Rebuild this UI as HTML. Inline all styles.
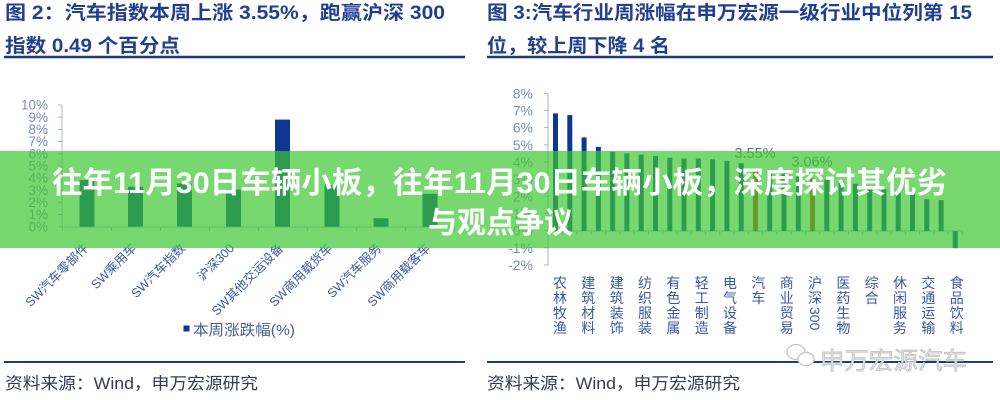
<!DOCTYPE html>
<html>
<head>
<meta charset="utf-8">
<style>
html,body{margin:0;padding:0;background:#fff;}
svg{display:block;}
text{font-family:"Liberation Sans","Noto Sans CJK SC",sans-serif;}
</style>
</head>
<body>
<svg width="1000" height="400" viewBox="0 0 1000 400" xmlns="http://www.w3.org/2000/svg">
<rect x="0" y="0" width="1000" height="400" fill="#ffffff"/>

<!-- ===== Left panel titles ===== -->
<g fill="#213f91" font-weight="bold" font-size="19">
  <text x="5" y="19" textLength="440" lengthAdjust="spacingAndGlyphs">图 2：汽车指数本周上涨 3.55%，跑赢沪深 300</text>
  <text x="5" y="52" textLength="175" lengthAdjust="spacingAndGlyphs">指数 0.49 个百分点</text>
</g>
<line x1="4" y1="57" x2="465" y2="57" stroke="#1f3a7a" stroke-width="2.5"/>

<!-- ===== Right panel titles ===== -->
<g fill="#213f91" font-weight="bold" font-size="19">
  <text x="487" y="19" textLength="485" lengthAdjust="spacingAndGlyphs">图 3:汽车行业周涨幅在申万宏源一级行业中位列第 15</text>
  <text x="487" y="52" textLength="183" lengthAdjust="spacingAndGlyphs">位，较上周下降 4 名</text>
</g>
<line x1="487" y1="57" x2="993" y2="57" stroke="#1f3a7a" stroke-width="2.5"/>

<!-- ===== Left chart ===== -->
<g fill="#7d8cb8" font-size="13.5" text-anchor="end">
  <text x="48" y="109.7">10%</text>
  <text x="48" y="121.9">9%</text>
  <text x="48" y="134.0">8%</text>
  <text x="48" y="146.2">7%</text>
  <text x="48" y="158.4">6%</text>
  <text x="48" y="170.5">5%</text>
  <text x="48" y="182.7">4%</text>
  <text x="48" y="194.9">3%</text>
  <text x="48" y="207.1">2%</text>
  <text x="48" y="219.2">1%</text>
  <text x="48" y="231.4">0%</text>
</g>
<g stroke="#a9b2cf" stroke-width="1">
  <line x1="62" y1="105" x2="62" y2="227"/>
  <line x1="58" y1="105" x2="62" y2="105"/>
  <line x1="58" y1="117.2" x2="62" y2="117.2"/>
  <line x1="58" y1="129.3" x2="62" y2="129.3"/>
  <line x1="58" y1="141.5" x2="62" y2="141.5"/>
  <line x1="58" y1="153.7" x2="62" y2="153.7"/>
  <line x1="58" y1="165.9" x2="62" y2="165.9"/>
  <line x1="58" y1="178.0" x2="62" y2="178.0"/>
  <line x1="58" y1="190.2" x2="62" y2="190.2"/>
  <line x1="58" y1="202.4" x2="62" y2="202.4"/>
  <line x1="58" y1="214.5" x2="62" y2="214.5"/>
  <line x1="58" y1="226.7" x2="62" y2="226.7"/>
  <line x1="62" y1="227" x2="454.5" y2="227"/>
  <line x1="62.5" y1="227" x2="62.5" y2="231"/>
  <line x1="111.5" y1="227" x2="111.5" y2="231"/>
  <line x1="160.5" y1="227" x2="160.5" y2="231"/>
  <line x1="209.5" y1="227" x2="209.5" y2="231"/>
  <line x1="258.5" y1="227" x2="258.5" y2="231"/>
  <line x1="307.5" y1="227" x2="307.5" y2="231"/>
  <line x1="356.5" y1="227" x2="356.5" y2="231"/>
  <line x1="405.5" y1="227" x2="405.5" y2="231"/>
  <line x1="454.5" y1="227" x2="454.5" y2="231"/>
</g>
<g fill="#0f3693">
  <rect x="79.5" y="180.0" width="15" height="46.7"/>
  <rect x="128" y="186.7" width="15" height="40.0"/>
  <rect x="177" y="183.5" width="15" height="43.2"/>
  <rect x="226" y="189.5" width="15" height="37.2"/>
  <rect x="275" y="119.6" width="15" height="107.1"/>
  <rect x="324.5" y="185.3" width="15" height="41.4"/>
  <rect x="373.5" y="218.2" width="15" height="8.5"/>
  <rect x="422.5" y="193.8" width="15" height="32.9"/>
</g>
<g fill="#3a58a8" font-size="12.5" text-anchor="end">
  <text transform="translate(89,249) rotate(-45)">SW汽车零部件</text>
  <text transform="translate(137,249) rotate(-45)">SW乘用车</text>
  <text transform="translate(186,249) rotate(-45)">SW汽车指数</text>
  <text transform="translate(235,249) rotate(-45)">沪深300</text>
  <text transform="translate(284,249) rotate(-45)">SW其他交运设备</text>
  <text transform="translate(333,249) rotate(-45)">SW商用载货车</text>
  <text transform="translate(382,249) rotate(-45)">SW汽车服务</text>
  <text transform="translate(431,249) rotate(-45)">SW商用载客车</text>
</g>
<rect x="183.5" y="325.5" width="6" height="6" fill="#0f3693"/>
<text x="193" y="335" fill="#4b5d96" font-size="15" textLength="102" lengthAdjust="spacingAndGlyphs">本周涨跌幅(%)</text>

<!-- ===== Right chart ===== -->
<g fill="#7d8cb8" font-size="14" text-anchor="end">
  <text x="533" y="98.3">8%</text>
  <text x="533" y="115.5">7%</text>
  <text x="533" y="132.6">6%</text>
  <text x="533" y="149.8">5%</text>
  <text x="533" y="167.0">4%</text>
  <text x="533" y="184.2">3%</text>
  <text x="533" y="201.3">2%</text>
  <text x="533" y="218.5">1%</text>
  <text x="533" y="235.7">0%</text>
  <text x="533" y="252.9">-1%</text>
  <text x="533" y="270.0">-2%</text>
</g>
<g stroke="#a9b2cf" stroke-width="1">
  <line x1="548" y1="93" x2="548" y2="265"/>
  <line x1="544" y1="93.3" x2="548" y2="93.3"/>
  <line x1="544" y1="110.5" x2="548" y2="110.5"/>
  <line x1="544" y1="127.6" x2="548" y2="127.6"/>
  <line x1="544" y1="144.8" x2="548" y2="144.8"/>
  <line x1="544" y1="162.0" x2="548" y2="162.0"/>
  <line x1="544" y1="179.2" x2="548" y2="179.2"/>
  <line x1="544" y1="196.3" x2="548" y2="196.3"/>
  <line x1="544" y1="213.5" x2="548" y2="213.5"/>
  <line x1="544" y1="230.7" x2="548" y2="230.7"/>
  <line x1="544" y1="247.9" x2="548" y2="247.9"/>
  <line x1="544" y1="265.0" x2="548" y2="265.0"/>
  <line x1="548" y1="231" x2="963" y2="231"/>
</g>
<g stroke="#a9b2cf" stroke-width="1">
  <line x1="562.7" y1="231" x2="562.7" y2="235"/>
  <line x1="577.0" y1="231" x2="577.0" y2="235"/>
  <line x1="591.3" y1="231" x2="591.3" y2="235"/>
  <line x1="605.5" y1="231" x2="605.5" y2="235"/>
  <line x1="619.8" y1="231" x2="619.8" y2="235"/>
  <line x1="634.1" y1="231" x2="634.1" y2="235"/>
  <line x1="648.4" y1="231" x2="648.4" y2="235"/>
  <line x1="662.7" y1="231" x2="662.7" y2="235"/>
  <line x1="676.9" y1="231" x2="676.9" y2="235"/>
  <line x1="691.2" y1="231" x2="691.2" y2="235"/>
  <line x1="705.5" y1="231" x2="705.5" y2="235"/>
  <line x1="719.8" y1="231" x2="719.8" y2="235"/>
  <line x1="734.0" y1="231" x2="734.0" y2="235"/>
  <line x1="748.3" y1="231" x2="748.3" y2="235"/>
  <line x1="762.6" y1="231" x2="762.6" y2="235"/>
  <line x1="776.9" y1="231" x2="776.9" y2="235"/>
  <line x1="791.2" y1="231" x2="791.2" y2="235"/>
  <line x1="805.4" y1="231" x2="805.4" y2="235"/>
  <line x1="819.7" y1="231" x2="819.7" y2="235"/>
  <line x1="834.0" y1="231" x2="834.0" y2="235"/>
  <line x1="848.3" y1="231" x2="848.3" y2="235"/>
  <line x1="862.6" y1="231" x2="862.6" y2="235"/>
  <line x1="876.8" y1="231" x2="876.8" y2="235"/>
  <line x1="891.1" y1="231" x2="891.1" y2="235"/>
  <line x1="905.4" y1="231" x2="905.4" y2="235"/>
  <line x1="919.7" y1="231" x2="919.7" y2="235"/>
  <line x1="934.0" y1="231" x2="934.0" y2="235"/>
  <line x1="948.2" y1="231" x2="948.2" y2="235"/>
  <line x1="962.5" y1="231" x2="962.5" y2="235"/>
</g>
<g fill="#0f3693">
  <rect x="553.0" y="113.4" width="5" height="117.6"/>
  <rect x="567.3" y="115.1" width="5" height="115.9"/>
  <rect x="581.6" y="137.4" width="5" height="93.6"/>
  <rect x="595.9" y="146.9" width="5" height="84.1"/>
  <rect x="610.1" y="151.7" width="5" height="79.3"/>
  <rect x="624.4" y="153.4" width="5" height="77.6"/>
  <rect x="638.7" y="154.6" width="5" height="76.4"/>
  <rect x="653.0" y="156.0" width="5" height="75.0"/>
  <rect x="667.3" y="157.7" width="5" height="73.3"/>
  <rect x="681.5" y="158.5" width="5" height="72.5"/>
  <rect x="695.8" y="158.5" width="5" height="72.5"/>
  <rect x="710.1" y="159.2" width="5" height="71.8"/>
  <rect x="724.4" y="160.9" width="5" height="70.1"/>
  <rect x="738.7" y="163.2" width="5" height="67.8"/>
  <rect x="767.2" y="170.9" width="5" height="60.1"/>
  <rect x="781.5" y="172.6" width="5" height="58.4"/>
  <rect x="795.8" y="175.2" width="5" height="55.8"/>
  <rect x="824.3" y="179.5" width="5" height="51.5"/>
  <rect x="838.6" y="181.2" width="5" height="49.8"/>
  <rect x="852.9" y="183.8" width="5" height="47.2"/>
  <rect x="867.2" y="186.4" width="5" height="44.6"/>
  <rect x="881.5" y="188.9" width="5" height="42.1"/>
  <rect x="895.7" y="190.7" width="5" height="40.3"/>
  <rect x="910.0" y="191.7" width="5" height="39.3"/>
  <rect x="924.3" y="199.2" width="5" height="31.8"/>
  <rect x="938.6" y="200.1" width="5" height="30.9"/>
  <rect x="952.8" y="231" width="5" height="17.2"/>
</g>
<g fill="#d62a1a">
  <rect x="753.0" y="170.0" width="5" height="61.0"/>
  <rect x="810.0" y="178.5" width="5" height="52.5"/>
</g>
<g fill="#6b6b6b" font-size="14.5" text-anchor="middle">
  <text x="755" y="158">3.55%</text>
  <text x="812" y="166.5">3.06%</text>
</g>

<!-- vertical category labels -->
<g fill="#3a58a8" font-size="14" text-anchor="middle">
  <text x="560" y="288">农</text><text x="560" y="303">林</text><text x="560" y="318">牧</text><text x="560" y="333">渔</text>
  <text x="588.3" y="288">建</text><text x="588.3" y="303">筑</text><text x="588.3" y="318">材</text><text x="588.3" y="333">料</text>
  <text x="616.7" y="288">建</text><text x="616.7" y="303">筑</text><text x="616.7" y="318">装</text><text x="616.7" y="333">饰</text>
  <text x="645" y="288">纺</text><text x="645" y="303">织</text><text x="645" y="318">服</text><text x="645" y="333">装</text>
  <text x="673.4" y="288">有</text><text x="673.4" y="303">色</text><text x="673.4" y="318">金</text><text x="673.4" y="333">属</text>
  <text x="701.7" y="288">轻</text><text x="701.7" y="303">工</text><text x="701.7" y="318">制</text><text x="701.7" y="333">造</text>
  <text x="730" y="288">电</text><text x="730" y="303">气</text><text x="730" y="318">设</text><text x="730" y="333">备</text>
  <text x="758.4" y="288">汽</text><text x="758.4" y="303">车</text>
  <text x="786.7" y="288">商</text><text x="786.7" y="303">业</text><text x="786.7" y="318">贸</text><text x="786.7" y="333">易</text>
  <text x="815" y="288">沪</text><text x="815" y="303">深</text>
  <text x="843.4" y="288">医</text><text x="843.4" y="303">药</text><text x="843.4" y="318">生</text><text x="843.4" y="333">物</text>
  <text x="871.7" y="288">综</text><text x="871.7" y="303">合</text>
  <text x="900" y="288">休</text><text x="900" y="303">闲</text><text x="900" y="318">服</text><text x="900" y="333">务</text>
  <text x="928.4" y="288">交</text><text x="928.4" y="303">通</text><text x="928.4" y="318">运</text><text x="928.4" y="333">输</text>
  <text x="956.7" y="288">食</text><text x="956.7" y="303">品</text><text x="956.7" y="318">饮</text><text x="956.7" y="333">料</text>
</g>
<text transform="translate(810,307) rotate(90)" fill="#3a58a8" font-size="14">300</text>

<!-- ===== Bottom source lines ===== -->
<line x1="4" y1="362" x2="465" y2="362" stroke="#1f3a7a" stroke-width="2"/>
<line x1="487" y1="362" x2="993" y2="362" stroke="#1f3a7a" stroke-width="2"/>
<g fill="#363b52" font-size="16.5">
  <text x="5" y="389" textLength="253" lengthAdjust="spacingAndGlyphs">资料来源：Wind，申万宏源研究</text>
  <text x="487" y="389" textLength="253" lengthAdjust="spacingAndGlyphs">资料来源：Wind，申万宏源研究</text>
</g>

<!-- watermark -->
<g fill="none" stroke="#c4c4c4" stroke-width="1.3">
  <ellipse cx="796" cy="352" rx="9" ry="7.5"/>
  <ellipse cx="806" cy="359" rx="8" ry="6.5" fill="#fff"/>
</g>
<text x="820" y="369" fill="#e2e2e2" stroke="#bdbdbd" stroke-width="0.7" font-size="24" textLength="147" lengthAdjust="spacingAndGlyphs">申万宏源汽车</text>

<!-- ===== Green banner overlay ===== -->
<rect x="0" y="151" width="1000" height="97" fill="rgb(60,200,50)" fill-opacity="0.7"/>
<g fill="#ffffff" font-weight="bold" font-size="30">
  <text x="52" y="193" textLength="895" lengthAdjust="spacingAndGlyphs">往年11月30日车辆小板，往年11月30日车辆小板，深度探讨其优劣</text>
  <text x="428" y="233" textLength="145" lengthAdjust="spacingAndGlyphs">与观点争议</text>
</g>
</svg>
</body>
</html>
